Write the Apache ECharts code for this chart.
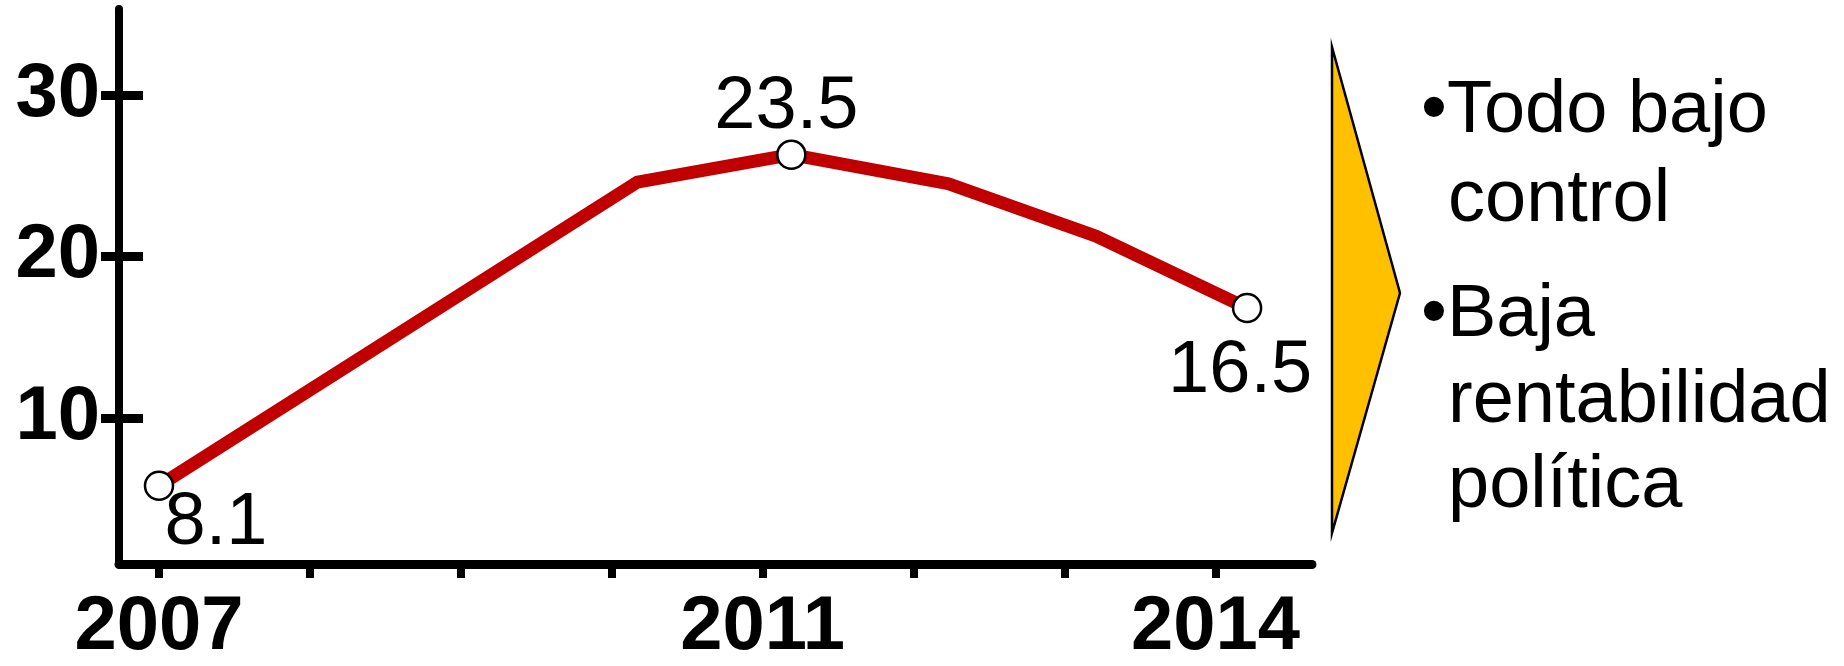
<!DOCTYPE html>
<html>
<head>
<meta charset="utf-8">
<script src="https://cdn.jsdelivr.net/npm/echarts@6/dist/echarts.min.js"></script>
<style>
html,body{margin:0;padding:0;background:#fff;}
#chart{width:1844px;height:666px;}
</style>
</head>
<body>
<div id="chart"></div>
<script>
// ---- data ----
const pointYears  = [2007, 2010.17, 2011.19, 2012.23, 2013.21, 2014.21];
const pointValues = [5.8, 24.6, 26.3, 24.5, 21.25, 16.8];
const pointLabels = ['8.1', null, '23.5', null, null, '16.5'];
const tickYears   = [2007, 2008, 2009, 2010, 2011, 2012, 2013, 2014];
const labelYears  = [2007, 2011, 2014];
const yTicks      = [10, 20, 30];
const bulletLines = [
  ['•Todo bajo', 'control'],
  ['•Baja', 'rentabilidad', 'política']
];

// ---- styling (not data) ----
const FONT = "'Liberation Sans', Arial, sans-serif";
const labelOffsets = {0: [57, 38], 2: [-5, -47], 5: [-7, 64]};

const linePoints = pointYears.map((x, i) => [x, pointValues[i]]);
const markedPoints = [];
pointLabels.forEach((t, i) => {
  if (t !== null) {
    markedPoints.push({
      value: [pointYears[i], pointValues[i]],
      label: { formatter: t, offset: labelOffsets[i] }
    });
  }
});

const yMin = 0.95, yMax = 35.32;

const graphics = [
  {
    type: 'polygon',
    shape: { points: [[1332, 47], [1400, 293], [1332, 533]] },
    style: { fill: '#FFC000', stroke: '#000', lineWidth: 2.5 }
  }
];
const textRows = [
  { t: bulletLines[0][0], x: 1421, y: 112 },
  { t: bulletLines[0][1], x: 1448, y: 201 },
  { t: bulletLines[1][0], x: 1421, y: 316 },
  { t: bulletLines[1][1], x: 1448, y: 402 },
  { t: bulletLines[1][2], x: 1448, y: 487 }
];
textRows.forEach(r => graphics.push({
  type: 'text', x: r.x, y: r.y,
  style: { text: r.t, fill: '#000', font: '74px ' + FONT, verticalAlign: 'middle', align: 'left' }
}));

const chart = echarts.init(document.getElementById('chart'), null, { renderer: 'canvas' });
chart.setOption({
  animation: false,
  backgroundColor: '#fff',
  grid: { left: 119, right: 532, top: 9, bottom: 95, containLabel: false },
  xAxis: {
    type: 'value',
    min: 2006.735, max: 2014.64,
    axisLine: { show: true, lineStyle: { color: '#000', width: 9 } },
    axisTick: { show: true, customValues: tickYears, length: 14, lineStyle: { color: '#000', width: 8 } },
    axisLabel: { customValues: labelYears, margin: 26, color: '#000', fontSize: 76, fontWeight: 'bold', fontFamily: FONT, formatter: v => String(Math.round(v)) },
    splitLine: { show: false }
  },
  yAxis: [
    {
      type: 'value', min: yMin, max: yMax, position: 'left',
      axisLine: { show: true, lineStyle: { color: '#000', width: 8 } },
      axisTick: { show: true, customValues: yTicks, length: 18, lineStyle: { color: '#000', width: 9 } },
      axisLabel: { customValues: yTicks, margin: 19, color: '#000', fontSize: 76, fontWeight: 'bold', fontFamily: FONT },
      splitLine: { show: false }
    },
    {
      type: 'value', min: yMin, max: yMax, position: 'left', offset: 0,
      axisLine: { show: false },
      axisTick: { show: true, inside: true, customValues: yTicks, length: 24, lineStyle: { color: '#000', width: 9 } },
      axisLabel: { show: false },
      splitLine: { show: false }
    }
  ],
  series: [
    {
      type: 'line', data: linePoints, yAxisIndex: 0,
      showSymbol: false, symbol: 'none',
      lineStyle: { color: '#C00000', width: 13, join: 'miter' },
      z: 2
    },
    {
      type: 'scatter', data: markedPoints, yAxisIndex: 0,
      symbol: 'circle', symbolSize: 28,
      itemStyle: { color: '#fff', borderColor: '#000', borderWidth: 2.5, opacity: 1 },
      label: { show: true, position: 'inside', color: '#000', fontSize: 74, fontFamily: FONT },
      z: 3
    }
  ],
  graphic: graphics
});
</script>
</body>
</html>
